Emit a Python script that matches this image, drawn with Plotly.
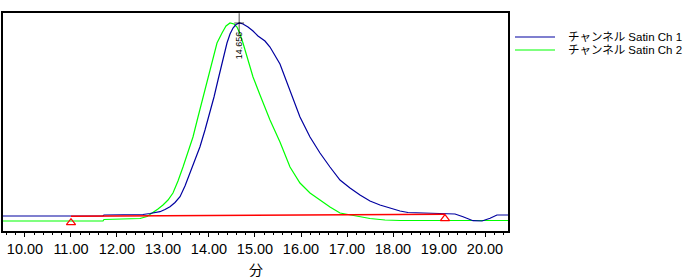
import plotly.graph_objects as go

# ---- data ----
ch1_name = "チャンネル Satin Ch 1"
ch2_name = "チャンネル Satin Ch 2"

ch1_t = [9.522, 11.696, 11.717, 12.565, 12.717, 12.935, 13.043, 13.152, 13.261, 13.370,
         13.478, 13.587, 13.696, 13.804, 13.913, 14.022, 14.109, 14.196, 14.283, 14.391,
         14.457, 14.522, 14.587, 14.663, 14.739, 14.848, 14.957, 15.065, 15.217, 15.326,
         15.543, 15.761, 15.978, 16.196, 16.413, 16.630, 16.848, 17.065, 17.283, 17.500,
         17.717, 17.935, 18.152, 18.326, 18.870, 19.022, 19.348, 19.522, 19.739, 19.935,
         20.110, 20.260, 20.500]
ch1_v = [15, 15, 16, 16.5, 17.5, 19.3, 21.5, 24.3, 28.5, 34.3,
         45, 58, 71, 84.3, 101, 118, 134, 151, 168, 188,
         197, 203, 206.5, 208, 207, 204, 200, 195, 190, 184,
         167, 141, 114, 94, 78, 64, 51, 43, 36, 30,
         26, 23, 20, 18.5, 17.5, 17.5, 17, 14.3, 10.3, 10,
         12.7, 16, 16]

ch2_t = [9.522, 11.696, 11.717, 12.500, 12.652, 12.783, 12.891, 13.000, 13.109, 13.217,
         13.326, 13.435, 13.543, 13.652, 13.761, 13.870, 13.978, 14.087, 14.174, 14.283,
         14.370, 14.457, 14.543, 14.609, 14.674, 14.739, 14.848, 14.957, 15.109, 15.326,
         15.543, 15.761, 15.978, 16.196, 16.413, 16.630, 16.848, 17.065, 17.283, 17.500,
         17.826, 18.152, 20.500]
ch2_v = [10, 10, 11.5, 12.5, 14.5, 18.3, 22, 26, 31, 38,
         50, 64, 79, 94, 114, 134, 154, 174, 188, 198,
         205, 208, 207, 204, 197, 188, 171, 154, 136, 111,
         89, 64, 48, 38, 31, 24, 18, 16, 14, 12.5,
         11, 10.5, 10.5]

# integration baseline (start / end)
base_t = [11.0, 19.13]
base_v = [14.8, 16.8]
# peak start/end marker positions
mark_t = [11.0, 19.13]
mark_v = [8.3, 12.4]

# apex label
peak_t = 14.656
peak_v = 208
peak_label = "14.656"

x_ticks = [10, 11, 12, 13, 14, 15, 16, 17, 18, 19, 20]
x_labels = ["10.00", "11.00", "12.00", "13.00", "14.00", "15.00",
            "16.00", "17.00", "18.00", "19.00", "20.00"]
x_title = "分"

BLUE = "#0000a0"
GREEN = "#00ff00"
RED = "#ff0000"

fig = go.Figure()
fig.add_trace(go.Scatter(x=ch2_t, y=ch2_v, mode="lines", name=ch2_name,
                         line=dict(color=GREEN, width=1.2), showlegend=False))
fig.add_trace(go.Scatter(x=ch1_t, y=ch1_v, mode="lines", name=ch1_name,
                         line=dict(color=BLUE, width=1.2), showlegend=False))
fig.add_trace(go.Scatter(x=base_t, y=base_v, mode="lines",
                         line=dict(color=RED, width=1.6), showlegend=False))
fig.add_trace(go.Scatter(x=mark_t, y=mark_v, mode="markers",
                         marker=dict(symbol="triangle-up-open", size=8,
                                     color=RED, line=dict(color=RED, width=1.2)),
                         showlegend=False))
fig.add_trace(go.Scatter(x=[peak_t, peak_t], y=[peak_v, peak_v], mode="markers",
                         marker=dict(symbol=["line-ns-open", "line-ew-open"], size=[14, 7],
                                     color="black", line=dict(color="black", width=1)),
                         showlegend=False))

fig.add_annotation(x=peak_t, y=peak_v - 22, xref="x", yref="y", text=peak_label,
                   textangle=-90, showarrow=False, xanchor="center", yanchor="middle",
                   font=dict(family="Liberation Sans, Arial", size=9, color="black"))

# legend (drawn manually for exact placement)
L, R_, T, B = 3, 508, 13, 231
def px(x):
    return (x - L) / (R_ - L)
def py(y):
    return (B - y) / (B - T)

for i, (nm, col) in enumerate([(ch1_name, BLUE), (ch2_name, GREEN)]):
    yy = 37 + 13 * i
    fig.add_shape(type="line", xref="paper", yref="paper",
                  x0=px(515), x1=px(555), y0=py(yy), y1=py(yy),
                  line=dict(color=col, width=1.2))
    fig.add_annotation(xref="paper", yref="paper", x=px(566), y=py(yy), text=nm,
                       showarrow=False, xanchor="left", yanchor="middle",
                       font=dict(family="Liberation Sans, Noto Sans CJK JP", size=11.5, color="black"))

# axis title as annotation, placed under the tick labels
fig.add_annotation(xref="paper", yref="paper", x=0.5, y=py(280), text=x_title,
                   showarrow=False, xanchor="center", yanchor="bottom", borderpad=0,
                   font=dict(family="Noto Sans CJK JP", size=14, color="black"))

fig.update_layout(
    width=700, height=280,
    margin=dict(l=L, r=700 - R_, t=T, b=280 - B),
    paper_bgcolor="white", plot_bgcolor="white",
    showlegend=False,
    xaxis=dict(range=[9.522, 20.5], tickmode="array", tickvals=x_ticks, ticktext=x_labels,
               ticks="outside", ticklen=4, tickwidth=1, tickcolor="black",
               minor=dict(dtick=0.2, ticks="outside", ticklen=2, tickcolor="black", tickwidth=1),
               showgrid=False, zeroline=False, showline=True, linecolor="black", linewidth=1.5,
               mirror=True,
               tickfont=dict(family="Liberation Sans, Arial", size=14.5, color="black")),
    yaxis=dict(range=[0, 218], showticklabels=False, ticks="", showgrid=False,
               zeroline=False, showline=True, linecolor="black", linewidth=1.5, mirror=True),
)

fig.write_html("out.html")
